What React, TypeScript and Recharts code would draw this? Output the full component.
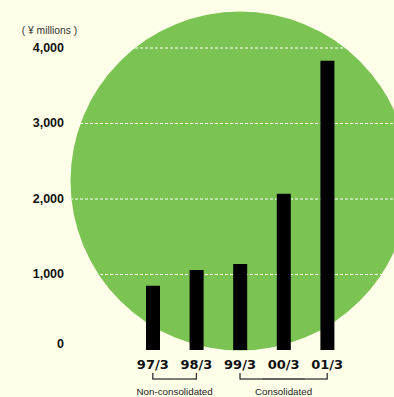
import React from 'react';
import { BarChart, Bar, XAxis, YAxis, CartesianGrid, Customized } from 'recharts';

// Fiscal periods and amounts (¥ millions)
const periods = ['97/3', '98/3', '99/3', '00/3', '01/3'];
const amounts = [850, 1060, 1140, 2070, 3830];
const yTicks = [0, 1000, 2000, 3000, 4000];
const gridValues = [1000, 2000, 3000, 4000];
const unitLabel = '( ¥ millions )';
const groupNames = ['Non-consolidated', 'Consolidated'];
const groupSpans: [number, number][] = [
  [0, 1],
  [2, 4],
];

const data = periods.map((period, i) => ({ period, amount: amounts[i] }));

// Layout
const W = 394;
const H = 397;
const MARGIN = { top: 48, right: 45, bottom: 0, left: 0 };
const Y_AXIS_W = 131;
const X_AXIS_H = 47;
const PLOT_W = W - MARGIN.left - MARGIN.right - Y_AXIS_W;
const BAND = PLOT_W / periods.length;

const CREAM = '#FFFFE9';
const GREEN = '#7BC454';
const INK = '#111111';
const FONT = '"Liberation Sans", Arial, Helvetica, sans-serif';
const PERIOD_FONT = '"DejaVu Sans", Verdana, sans-serif';

// Decorative disc behind the plot
const DISC = { cx: 240, cy: 181, r: 169.5 };

function AmountTick(props: any) {
  const { x, y, payload } = props;
  const v = payload.value as number;
  return (
    <text
      x={x}
      y={y + (v === 0 ? -2 : 3.8)}
      textAnchor="end"
      fontSize={12.5}
      fontWeight={700}
      fontFamily={FONT}
      fill={INK}
    >
      {v.toLocaleString('en-US')}
    </text>
  );
}

function PeriodTick(props: any) {
  const { x, y, payload } = props;
  const i = typeof props.index === 'number' ? props.index : periods.indexOf(payload.value);
  const items: React.ReactNode[] = [];
  items.push(
    <text
      key="label"
      x={x}
      y={y + 19}
      textAnchor="middle"
      fontSize={13}
      fontWeight={700}
      fontFamily={PERIOD_FONT}
      fill={INK}
    >
      {payload.value}
    </text>
  );
  groupSpans.forEach(([from, to], g) => {
    if (i < from || i > to) return;
    const by = y + 29;
    const left = i === from ? x : x - BAND / 2;
    const right = i === to ? x : x + BAND / 2;
    items.push(
      <line key={`h${g}`} x1={left} x2={right} y1={by} y2={by} stroke="#333" strokeWidth={1.3} />
    );
    if (i === from || i === to) {
      items.push(
        <line key={`v${g}`} x1={x} x2={x} y1={y + 23} y2={by + 0.6} stroke="#333" strokeWidth={1.3} />
      );
    }
    if (i === from) {
      items.push(
        <text
          key={`g${g}`}
          x={x + ((to - from) * BAND) / 2}
          y={y + 44.7}
          textAnchor="middle"
          fontSize={9.8}
          fontFamily={FONT}
          fill="#222"
        >
          {groupNames[g]}
        </text>
      );
    }
  });
  return <g>{items}</g>;
}

function GridLine(props: any) {
  const { y1 } = props;
  return (
    <line
      x1={0}
      x2={W}
      y1={y1}
      y2={y1}
      stroke="#ffffff"
      strokeWidth={1}
      strokeDasharray="3 2"
      clipPath="url(#disc-clip)"
    />
  );
}

function UnitCaption() {
  return (
    <text x={21.7} y={33.6} fontSize={10.3} fontFamily={FONT} fill="#333">
      {unitLabel}
    </text>
  );
}

export default function App() {
  return (
    <div
      style={{
        position: 'absolute',
        left: 0,
        top: 0,
        width: W,
        height: H,
        background: CREAM,
        overflow: 'hidden',
      }}
    >
      <svg
        width={W}
        height={H}
        style={{ position: 'absolute', left: 0, top: 0 }}
      >
        <defs>
          <clipPath id="disc-clip">
            <circle cx={DISC.cx} cy={DISC.cy} r={DISC.r} />
          </clipPath>
        </defs>
        <circle cx={DISC.cx} cy={DISC.cy} r={DISC.r} fill={GREEN} />
      </svg>
      <div style={{ position: 'absolute', left: 0, top: 0 }}>
        <BarChart width={W} height={H} data={data} margin={MARGIN}>
          <CartesianGrid
            vertical={false}
            horizontal={GridLine as any}
            horizontalValues={gridValues}
            stroke="#ffffff"
          />
          <XAxis
            dataKey="period"
            height={X_AXIS_H}
            axisLine={false}
            tickLine={false}
            tickSize={0}
            tickMargin={0}
            interval={0}
            tick={<PeriodTick />}
          />
          <YAxis
            type="number"
            domain={[0, 4000]}
            ticks={yTicks}
            width={Y_AXIS_W}
            axisLine={false}
            tickLine={false}
            tickSize={0}
            tickMargin={67}
            interval={0}
            tick={<AmountTick />}
          />
          <Bar dataKey="amount" fill="#000000" barSize={14} isAnimationActive={false} />
          <Customized component={UnitCaption} />
        </BarChart>
      </div>
    </div>
  );
}
